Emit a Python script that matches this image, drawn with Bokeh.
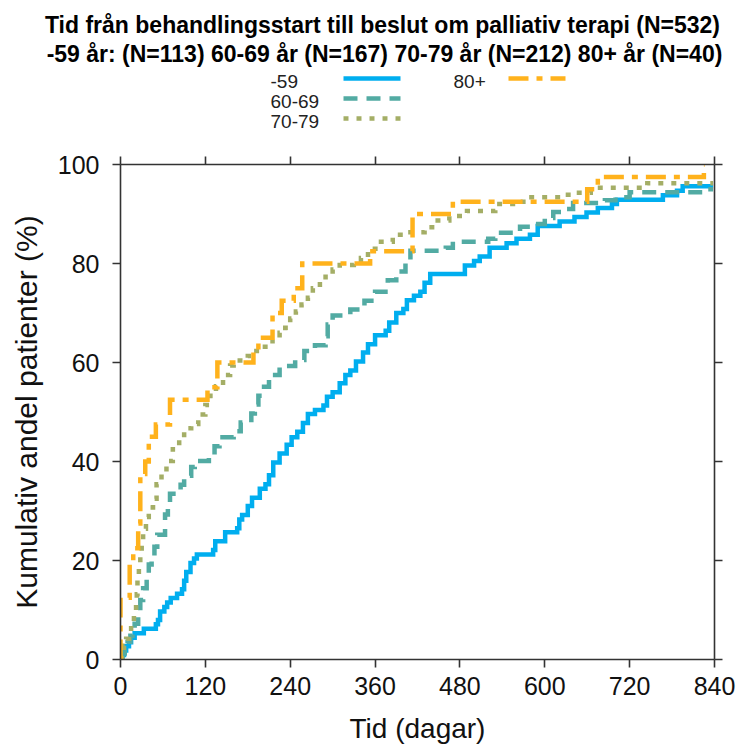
from bokeh.plotting import figure
from bokeh.models import Range1d, LinearAxis, FixedTicker
from bokeh.layouts import column
from bokeh.core.properties import value
from bokeh.embed import file_html
from bokeh.resources import INLINE

# ---------------- data ----------------
TITLE1 = "Tid från behandlingsstart till beslut om palliativ terapi (N=532)"
TITLE2 = "-59 år: (N=113) 60-69 år (N=167) 70-79 år (N=212) 80+ år (N=40)"
SERIES = ["-59", "60-69", "70-79", "80+"]
X_TICKS = [0, 120, 240, 360, 480, 600, 720, 840]
Y_TICKS = [0, 20, 40, 60, 80, 100]
X_LABEL = "Tid (dagar)"
Y_LABEL = "Kumulativ andel patienter (%)"

days_59 = [0, 2, 5, 8, 12, 15, 20, 33, 50, 53, 56, 62, 66, 71, 80, 87, 90, 93, 99, 104, 108,
           131, 134, 148, 165, 168, 172, 180, 186, 197, 205, 210, 216, 225, 235, 242, 250,
           258, 265, 275, 287, 292, 300, 310, 318, 325, 333, 343, 350, 360, 375, 380, 390,
           400, 405, 415, 424, 430, 438, 487, 500, 508, 522, 546, 560, 579, 590, 621, 642,
           659, 675, 695, 702, 767, 787, 795, 838]
pct_59 = [0, 0.9, 1.8, 2.7, 3.5, 4.4, 5.3, 6.2, 7.1, 8.0, 9.7, 10.6, 11.5, 12.4, 13.3, 14.2,
          15.9, 17.7, 19.5, 20.4, 21.2, 22.1, 23.9, 25.7, 26.5, 28.3, 29.2, 31.0, 32.7, 34.5,
          35.4, 37.2, 39.8, 41.6, 43.4, 44.9, 46.0, 47.8, 49.6, 50.4, 51.3, 53.1, 54.0, 55.8,
          57.5, 58.4, 60.2, 62.0, 63.7, 65.5, 66.4, 68.1, 70.0, 70.8, 72.6, 73.5, 74.3, 76.1,
          77.9, 79.6, 80.5, 81.4, 83.2, 84.1, 85.0, 85.8, 87.6, 88.5, 89.4, 90.3, 91.2, 92.0,
          92.9, 93.8, 94.7, 95.6, 95.6]

days_60 = [0, 3, 6, 10, 14, 17, 20, 25, 28, 32, 37, 40, 44, 48, 52, 63, 67, 70, 85, 90, 100,
           105, 125, 133, 140, 160, 170, 185, 190, 195, 203, 210, 225, 247, 260, 275, 290,
           293, 300, 325, 345, 360, 378, 390, 403, 410, 460, 470, 520, 530, 565, 580, 600,
           612, 625, 640, 685, 700, 720, 830, 838]
pct_60 = [0, 1.2, 2.4, 3.6, 4.8, 6.0, 7.2, 9.6, 12.0, 14.4, 16.8, 19.2, 21.0, 22.8, 25.2,
          29.3, 31.7, 33.5, 35.3, 37.1, 38.9, 40.1, 41.3, 43.1, 44.9, 46.1, 47.9, 49.7, 51.5,
          53.3, 55.1, 57.5, 59.3, 60.5, 62.3, 63.5, 65.3, 67.7, 69.5, 70.7, 72.5, 74.3, 76.6,
          78.4, 80.2, 82.6, 83.2, 84.4, 85.0, 86.2, 87.4, 88.0, 89.2, 90.4, 91.0, 92.2, 92.8,
          93.4, 94.4, 95.0, 95.0]

days_70 = [0, 2, 5, 8, 12, 15, 19, 22, 23, 24, 26, 28, 30, 32, 36, 40, 46, 51, 58, 65, 74,
           83, 90, 100, 110, 120, 127, 135, 145, 155, 160, 180, 186, 200, 215, 225, 233, 240,
           248, 256, 265, 272, 282, 290, 300, 310, 330, 340, 350, 365, 385, 410, 430, 445,
           465, 490, 530, 555, 575, 625, 645, 665, 745, 838]
pct_70 = [0, 1.4, 2.8, 4.2, 5.7, 7.1, 9.4, 11.8, 13.2, 16.5, 18.9, 21.2, 23.6, 26.4, 28.8,
          30.7, 32.5, 35.4, 37.7, 40.1, 42.5, 44.8, 46.7, 47.6, 49.5, 51.4, 53.3, 55.2, 57.5,
          59.4, 60.4, 61.3, 62.3, 63.2, 64.6, 66.0, 67.0, 68.9, 70.3, 71.7, 73.1, 75.0, 76.4,
          77.8, 78.8, 79.7, 80.2, 81.1, 83.0, 84.4, 85.8, 86.3, 87.3, 88.7, 89.6, 90.6, 92.0,
          92.5, 93.4, 93.9, 94.3, 95.3, 96.2, 96.2]

days_80 = [0, 0, 13, 18, 25, 28, 35, 40, 50, 70, 123, 137, 188, 195, 215, 228, 245, 257,
           353, 413, 470, 660, 675, 825, 826]
pct_80 = [0, 12.5, 20.0, 22.5, 27.5, 37.5, 40.0, 45.0, 47.5, 52.5, 55.0, 60.0, 62.5, 65.0,
          70.0, 72.5, 75.0, 80.0, 82.5, 90.0, 92.5, 95.0, 97.5, 100.0, 100.0]

ALL_DAYS = [days_59, days_60, days_70, days_80]
ALL_PCT = [pct_59, pct_60, pct_70, pct_80]

# ---------------- styles ----------------
COLORS = ["#00AEEF", "#52ABA3", "#A4AE66", "#FFB21C"]
DASHES = ["solid", "14 9", "5 8", "20 8 6 8"]
LW = 4.5
FONT = value("Liberation Sans")
W = 736


def no_frame_align(fig):
    if "frame_align" in fig.properties():
        fig.frame_align = False


# ---------------- header (title + legend) ----------------
TOP_H = 148
top = figure(width=W, height=TOP_H, x_range=Range1d(0, W), y_range=Range1d(TOP_H, 0),
             x_axis_type=None, y_axis_type=None, output_backend="svg",
             toolbar_location=None, min_border=0)
no_frame_align(top)
top.grid.visible = False
top.outline_line_color = None
top.text(x=[382, 384], y=[24, 53], text=[TITLE1, TITLE2], text_align="center",
         text_baseline="middle", text_font=FONT, text_font_style="bold",
         text_font_size="23px", text_color="#000000")

LEG_TEXT_X = [270, 453]
LEG_LINE_X = [343, 508]
LEG_LINE_LEN = 57
LEG_Y0 = 80
LEG_DY = 20
LEG_COL = [0, 0, 0, 1]
LEG_ROW = [0, 1, 2, 0]
for i, name in enumerate(SERIES):
    c, r = LEG_COL[i], LEG_ROW[i]
    yc = LEG_Y0 + r * LEG_DY
    top.text(x=[LEG_TEXT_X[c]], y=[yc + 1], text=[name], text_align="left",
             text_baseline="middle", text_font=FONT, text_font_size="19px",
             text_color="#222222")
    top.line(x=[LEG_LINE_X[c], LEG_LINE_X[c] + LEG_LINE_LEN], y=[yc - 2, yc - 2],
             line_color=COLORS[i], line_width=LW, line_dash=DASHES[i])

# ---------------- main chart ----------------
p = figure(width=W, height=598, x_range=Range1d(0, 840), y_range=Range1d(0, 100),
           output_backend="svg", toolbar_location=None,
           min_border_left=120, min_border_right=22, min_border_top=16,
           min_border_bottom=83)
no_frame_align(p)
p.grid.visible = False
p.outline_line_color = None
p.background_fill_color = "white"

for i in range(4):
    p.step(x=ALL_DAYS[i], y=ALL_PCT[i], mode="after", line_color=COLORS[i],
           line_width=LW, line_dash=DASHES[i], line_join="miter")


def style_axis(ax, ticks, show_labels):
    ax.ticker = FixedTicker(ticks=ticks)
    ax.major_tick_in = 0
    ax.major_tick_out = 8
    ax.minor_tick_in = 0
    ax.minor_tick_out = 0
    ax.axis_line_color = "#333333"
    ax.axis_line_width = 1.6
    ax.major_tick_line_color = "#333333"
    ax.major_tick_line_width = 1.6
    ax.major_label_text_font = "Liberation Sans"
    ax.major_label_text_font_size = "25px"
    ax.major_label_text_color = "#111111"
    if not show_labels:
        ax.major_label_overrides = {t: "" for t in ticks}


xa = p.xaxis[0]
ya = p.yaxis[0]
style_axis(xa, X_TICKS, True)
style_axis(ya, Y_TICKS, True)
xa.major_label_standoff = 9
ya.major_label_standoff = 13
xa.axis_label = X_LABEL
ya.axis_label = Y_LABEL
for ax in (xa, ya):
    ax.axis_label_text_font = "Liberation Sans"
    ax.axis_label_text_font_style = "normal"
    ax.axis_label_text_color = "#111111"
xa.axis_label_text_font_size = "28px"
ya.axis_label_text_font_size = "30px"
xa.axis_label_standoff = 15
ya.axis_label_standoff = 12

ra = LinearAxis()
style_axis(ra, Y_TICKS, False)
p.add_layout(ra, "right")
ta = LinearAxis()
style_axis(ta, X_TICKS, False)
p.add_layout(ta, "above")

layout = column(top, p, spacing=0)
open("out.html", "w").write(file_html(layout, INLINE))
